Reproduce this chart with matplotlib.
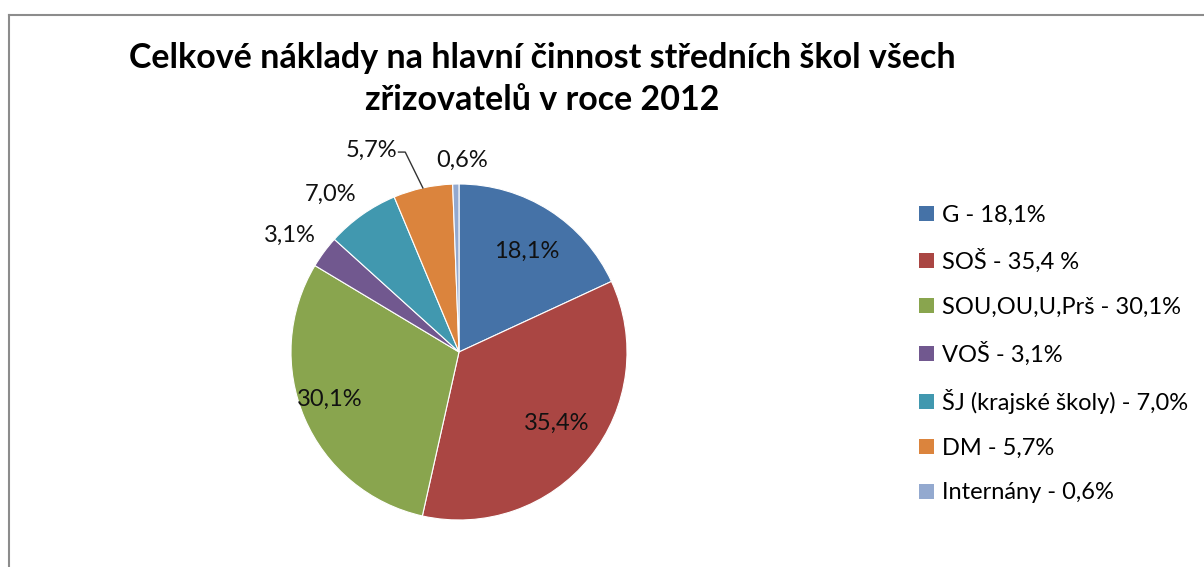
import numpy as np
import matplotlib.pyplot as plt
from matplotlib.patches import Rectangle

plt.rcParams['font.family'] = ['Lato', 'DejaVu Sans']

# data
categories = ['G', 'SOŠ', 'SOU,OU,U,Prš', 'VOŠ', 'ŠJ (krajské školy)', 'DM', 'Internány']
shares = [18.1, 35.4, 30.1, 3.1, 7.0, 5.7, 0.6]
legend_labels = ['G - 18,1%', 'SOŠ - 35,4 %', 'SOU,OU,U,Prš - 30,1%', 'VOŠ - 3,1%',
                 'ŠJ (krajské školy) - 7,0%', 'DM - 5,7%', 'Internány - 0,6%']
colors = ['#4572A7', '#AA4643', '#89A54E', '#71588F', '#4198AF', '#DB843D', '#93A9CF']

W, H = 1204, 567
fig = plt.figure(figsize=(W / 100, H / 100), dpi=100)

# chart frame (only top and left edges visible)
fig.add_artist(plt.Line2D([8.5 / W, 8.5 / W], [0, 1 - 15 / H], color='#8c8c8c', lw=1.5))
fig.add_artist(plt.Line2D([8.5 / W, 1], [1 - 15 / H, 1 - 15 / H], color='#8c8c8c', lw=1.5))

fig.text(542 / W, 1 - 58 / H, 'Celkové náklady na hlavní činnost středních škol všech',
         ha='center', va='center', fontsize=24.5, fontweight='bold', color='black')
fig.text(542 / W, 1 - 100 / H, 'zřizovatelů v roce 2012',
         ha='center', va='center', fontsize=24.5, fontweight='bold', color='black')

# pie axes: centre (459, 352) px, radius 168 px
cx, cy, r = 459, 352, 168
ax = fig.add_axes([(cx - r) / W, 1 - (cy + r) / H, 2 * r / W, 2 * r / H])
wedges, _ = ax.pie(shares, colors=colors, startangle=90, counterclock=False,
                   wedgeprops=dict(edgecolor='white', linewidth=0.8))
ax.set_xlim(-1, 1)
ax.set_ylim(-1, 1)
ax.axis('off')

# label distance / angle offsets per slice
dists = [0.72, 0.72, 0.82, 1.22, 1.21, 1.31, 1.14]
offsets = [-1.5, 2.5, -3, 2, 4, 11, -2]
for w, s, d, off in zip(wedges, shares, dists, offsets):
    ang = np.deg2rad((w.theta1 + w.theta2) / 2 + off)
    x, y = d * np.cos(ang), d * np.sin(ang)
    ax.text(x, y, f'{s:.1f}%'.replace('.', ','), ha='center', va='center',
            fontsize=17, color='#111111', clip_on=False)

# leader line for DM label
dm = wedges[5]
a = np.deg2rad((dm.theta1 + dm.theta2) / 2)
ex, ey = np.cos(a) * 1.0, np.sin(a) * 1.0
ax.plot([-0.36, -0.32, ex], [1.19, 1.19, ey], color='#333333', lw=1, clip_on=False)

# legend
handles = [Rectangle((0, 0), 1, 1, facecolor=c, edgecolor='none') for c in colors]
leg = fig.legend(handles, legend_labels, loc='upper left',
                 bbox_to_anchor=(910 / W, 1 - 195 / H), frameon=False,
                 fontsize=17, handlelength=0.6, handleheight=0.6,
                 handletextpad=0.35, labelspacing=1.0, borderaxespad=0)

fig.savefig('out.png', dpi=100, facecolor='white')
